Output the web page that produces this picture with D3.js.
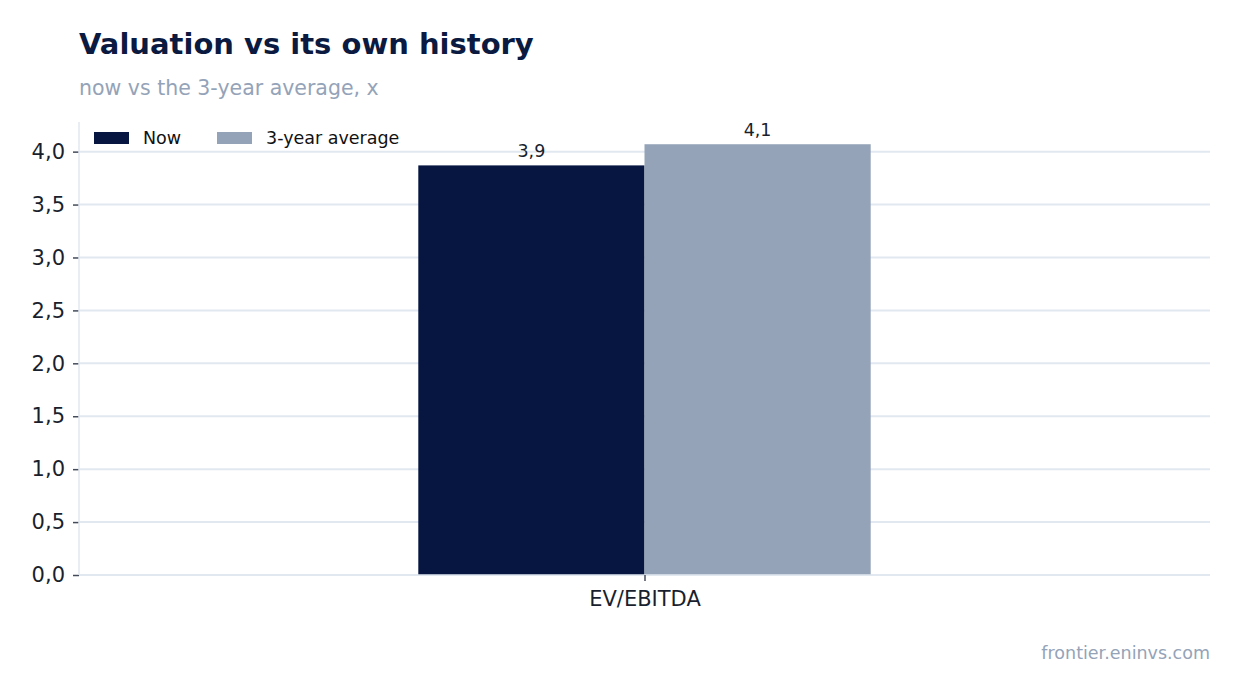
<!DOCTYPE html>
<html>
<head>
<meta charset="utf-8">
<script src="https://cdn.jsdelivr.net/npm/d3@7"></script>
<style>
  body { margin: 0; background: #fff; }
  svg { font-family: "DejaVu Sans", sans-serif; }
</style>
</head>
<body>
<div id="chart"></div>
<script>
// chart data
const categories = ["EV/EBITDA"];
const seriesNames = ["Now", "3-year average"];
const nowValues = [3.87];
const avgValues = [4.07];
const valueLabels = [["3,9"], ["4,1"]];
const yTicks = [0, 0.5, 1, 1.5, 2, 2.5, 3, 3.5, 4];

const WIDTH = 1241;
const HEIGHT = 693;
const LEFT = 79, RIGHT = 1210, TOP = 122, BOTTOM = 575;

const colors = ["#061640", "#94a3b8"];

const svg = d3.select("#chart")
    .append("svg")
    .attr("width", WIDTH)
    .attr("height", HEIGHT);

// Title + subtitle
svg.append("text")
    .attr("x", LEFT)
    .attr("y", 54)
    .attr("fill", "#0b1a40")
    .attr("font-size", 29)
    .attr("font-weight", "bold")
    .text("Valuation vs its own history");

svg.append("text")
    .attr("x", LEFT)
    .attr("y", 95)
    .attr("fill", "#94a3b8")
    .attr("font-size", 20.5)
    .text("now vs the 3-year average, x");

// scales: one category sitting at 0, x domain -1..1 like matplotlib
let xScale = d3.scaleLinear().domain([-1, 1]).range([LEFT, RIGHT]);
let yScale = d3.scaleLinear().domain([0, 4.28]).range([BOTTOM, TOP]);
const barWidth = 0.4;

const fmt = d => d3.format(".1f")(d).replace(".", ",");

// Grid lines
svg.append("g")
    .selectAll("line")
    .data(yTicks)
    .enter().append("line")
    .attr("x1", LEFT)
    .attr("x2", RIGHT)
    .attr("y1", d => yScale(d))
    .attr("y2", d => yScale(d))
    .attr("stroke", "#e2e8f0")
    .attr("stroke-width", 2);

// Y axis
const yAxis = svg.append("g")
    .attr("transform", `translate(${LEFT},0)`)
    .call(d3.axisLeft(yScale).tickValues(yTicks).tickFormat(fmt).tickSize(6).tickPadding(8));
yAxis.select(".domain").remove();
yAxis.selectAll(".tick line").attr("stroke", "#444b5a").attr("stroke-width", 1.5);
yAxis.selectAll(".tick text")
    .attr("fill", "#1a1f2e")
    .attr("font-size", 21)
    .attr("font-family", "DejaVu Sans, sans-serif");

// spines (left + bottom, light)
svg.append("line")
    .attr("x1", LEFT).attr("x2", LEFT)
    .attr("y1", TOP).attr("y2", BOTTOM)
    .attr("stroke", "#e2e8f0").attr("stroke-width", 1.5);

// Bars
const series = [nowValues, avgValues];
series.forEach((vals, s) => {
    const offset = s === 0 ? -barWidth : 0;
    svg.append("g")
        .selectAll("rect")
        .data(vals)
        .enter().append("rect")
        .attr("x", (d, i) => xScale(i + offset))
        .attr("y", d => yScale(d))
        .attr("width", xScale(barWidth) - xScale(0))
        .attr("height", d => BOTTOM - yScale(d))
        .attr("fill", colors[s]);

    svg.append("g")
        .selectAll("text")
        .data(vals)
        .enter().append("text")
        .attr("x", (d, i) => xScale(i + offset + barWidth / 2))
        .attr("y", d => yScale(d) - 8)
        .attr("text-anchor", "middle")
        .attr("font-size", 17.5)
        .attr("fill", "#1a1f2e")
        .text((d, i) => valueLabels[s][i]);
});

svg.append("line")
    .attr("x1", LEFT).attr("x2", RIGHT)
    .attr("y1", BOTTOM).attr("y2", BOTTOM)
    .attr("stroke", "#e2e8f0").attr("stroke-width", 1.5);

// X axis
const xAxis = svg.append("g")
    .attr("transform", `translate(0,${BOTTOM})`)
    .call(d3.axisBottom(xScale).tickValues(categories.map((c, i) => i))
        .tickFormat(i => categories[i]).tickSize(6).tickPadding(10));
xAxis.select(".domain").remove();
xAxis.selectAll(".tick line").attr("stroke", "#444b5a").attr("stroke-width", 1.5);
xAxis.selectAll(".tick text")
    .attr("fill", "#1a1f2e")
    .attr("font-size", 21)
    .attr("font-family", "DejaVu Sans, sans-serif");

// Legend
const legend = svg.append("g").attr("transform", "translate(94,132)");
const legendX = [0, 123];
seriesNames.forEach((name, i) => {
    legend.append("rect")
        .attr("x", legendX[i])
        .attr("y", 0)
        .attr("width", 35)
        .attr("height", 12)
        .attr("fill", colors[i]);
    legend.append("text")
        .attr("x", legendX[i] + 49)
        .attr("y", 12)
        .attr("font-size", 17.5)
        .attr("fill", "#111")
        .text(name);
});

// Footer
svg.append("text")
    .attr("x", RIGHT)
    .attr("y", 659)
    .attr("text-anchor", "end")
    .attr("font-size", 17.5)
    .attr("fill", "#94a3b8")
    .text("frontier.eninvs.com");
</script>
</body>
</html>
